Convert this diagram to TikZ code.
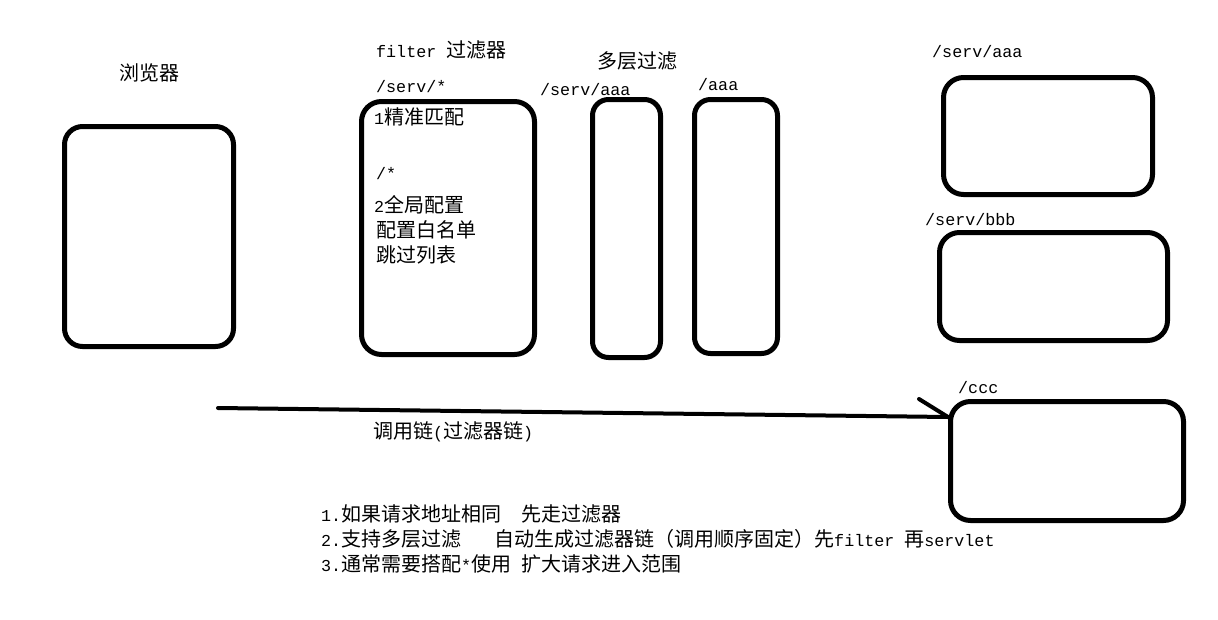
\documentclass[tikz,border=0pt]{standalone}
\usepackage{fontspec}
\usetikzlibrary{calc}
\newfontfamily\cjk{Noto Sans CJK SC}
\newfontfamily\latmono{Liberation Mono}
\newcommand\lt[1]{{\latmono\fontsize{16.7}{20}\selectfont #1}}
\begin{document}
\begin{tikzpicture}[x=1pt,y=-1pt,
  box/.style={draw, line width=5pt, rounded corners=18pt, inner sep=0pt},
  txt/.style={anchor=base west, inner sep=0pt, font=\cjk\fontsize{20}{24}\selectfont},
  link/.style={line width=4pt, line cap=round}]
\useasboundingbox (0,0) rectangle (1218,619);
\fill[white] (0,0) rectangle (1218,619);

% boxes
\node[box, minimum width=169pt, minimum height=220pt] (browser) at (149,236.5) {};
\node[box, minimum width=173pt, minimum height=253pt, rounded corners=20pt] (filter) at (448,228) {};
\node[box, minimum width=68pt, minimum height=258pt, rounded corners=16pt] (fa) at (626.5,228.5) {};
\node[box, minimum width=83pt, minimum height=254pt, rounded corners=16pt] (fb) at (736,226.5) {};
\node[box, minimum width=209pt, minimum height=117pt, rounded corners=20pt] (servaaa) at (1048,136) {};
\node[box, minimum width=228pt, minimum height=108pt, rounded corners=20pt] (servbbb) at (1053.5,286.5) {};
\node[box, minimum width=233pt, minimum height=119pt, rounded corners=20pt] (ccc) at (1067,461) {};

% labels
\node[txt] (tbrowser) at (119,80) {浏览器};
\node[txt] (tfilter) at (376,57) {\lt{filter }过滤器};
\node[txt] (tservstar) at (376,92) {\lt{/serv/*}};
\node[txt] (t1) at (374,124) {\lt{1}精准匹配};
\node[txt] (tstar) at (376,179) {\lt{/*}};
\node[txt] (t2) at (374,212) {\lt{2}全局配置};
\node[txt] (t3) at (376,237) {配置白名单};
\node[txt] (t4) at (376,262) {跳过列表};
\node[txt] (tmulti) at (597,68) {多层过滤};
\node[txt] (tfa) at (540,95) {\lt{/serv/aaa}};
\node[txt] (tfb) at (698,90) {\lt{/aaa}};
\node[txt] (tsa) at (932,57) {\lt{/serv/aaa}};
\node[txt] (tsb) at (925,225) {\lt{/serv/bbb}};
\node[txt] (tsc) at (958,393) {\lt{/ccc}};
\node[txt] (tchain) at (373,438) {调用链\lt{(}过滤器链\lt{)}};
\node[txt] (n1) at (321,521) {\lt{1.}如果请求地址相同\hspace{20pt}先走过滤器};
\node[txt] (n2) at (321,546) {\lt{2.}支持多层过滤\hspace{33pt}自动生成过滤器链（调用顺序固定）先\lt{filter }再\lt{servlet}};
\node[txt] (n3) at (321,571) {\lt{3.}通常需要搭配\lt{*}使用\lt{ }扩大请求进入范围};

% call chain
\coordinate (chainstart) at (218,408);
\coordinate (chainend) at ($(ccc.north west)+(0,18)$);
\draw[link] (chainstart) -- (chainend);
\draw[link] (chainend) -- ++(-29,-18);
\end{tikzpicture}
\end{document}
